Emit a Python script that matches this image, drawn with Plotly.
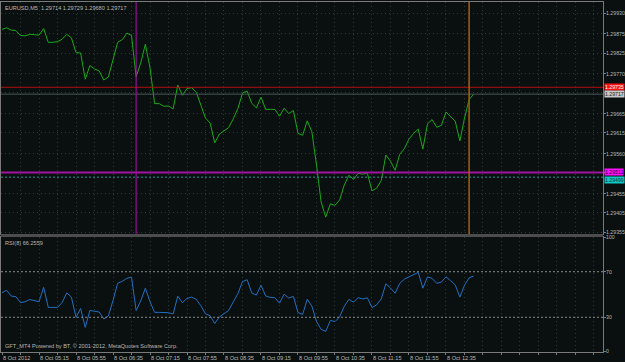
import plotly.graph_objects as go
import pandas as pd

# ---------------- data ----------------
close = [1.29887, 1.29891, 1.29885, 1.29884, 1.29871, 1.29870, 1.29874, 1.29873, 1.29872, 1.29889,
         1.29853, 1.29853, 1.29855, 1.29861, 1.29874, 1.29865, 1.29826, 1.29825, 1.29756, 1.29792,
         1.29783, 1.29778, 1.29754, 1.29762, 1.29808, 1.29853, 1.29860, 1.29877, 1.29871, 1.29763,
         1.29799, 1.29848, 1.29786, 1.29692, 1.29692, 1.29685, 1.29686, 1.29678, 1.29741, 1.29714,
         1.29732, 1.29734, 1.29722, 1.29686, 1.29654, 1.29641, 1.29589, 1.29612, 1.29621, 1.29629,
         1.29652, 1.29679, 1.29720, 1.29725, 1.29693, 1.29681, 1.29709, 1.29677, 1.29677, 1.29677,
         1.29659, 1.29680, 1.29666, 1.29674, 1.29614, 1.29609, 1.29647, 1.29618, 1.29531, 1.29434,
         1.29394, 1.29429, 1.29425, 1.29439, 1.29478, 1.29504, 1.29493, 1.29509, 1.29507, 1.29509,
         1.29463, 1.29470, 1.29490, 1.29557, 1.29541, 1.29517, 1.29559, 1.29574, 1.29599, 1.29614,
         1.29625, 1.29573, 1.29639, 1.29650, 1.29630, 1.29635, 1.29670, 1.29658, 1.29646, 1.29594,
         1.29654, 1.29703, 1.29717]

rsi = [51.6, 53.7, 48.6, 48.1, 42.9, 43.6, 45.6, 44.6, 43.7, 56.3,
       38.7, 38.7, 38.7, 42.9, 51.4, 47.7, 30.0, 37.7, 21.1, 36.0,
       35.0, 34.6, 28.5, 31.1, 44.7, 59.8, 61.6, 64.2, 65.3, 35.9,
       44.5, 55.5, 43.6, 34.3, 34.3, 34.3, 34.0, 32.9, 48.5, 42.8,
       46.6, 47.7, 45.7, 40.1, 33.0, 31.3, 24.5, 30.3, 33.5, 36.0,
       43.5, 50.7, 61.4, 63.0, 51.4, 49.5, 58.1, 48.7, 47.4, 47.2,
       42.4, 50.3, 46.8, 48.3, 34.2, 32.4, 45.9, 39.8, 26.3, 19.4,
       17.6, 27.2, 26.2, 30.3, 39.6, 45.7, 43.3, 47.2, 46.1, 47.1,
       38.5, 40.9, 46.1, 59.4, 55.7, 51.1, 59.8, 63.5, 65.5, 67.7,
       69.4, 55.5, 65.5, 64.2, 59.8, 60.9, 65.5, 62.1, 58.4, 47.7,
       58.1, 64.6, 66.2559]

bar_times = pd.date_range("2012-10-08 04:35", periods=len(close), freq="5min")

x_label_times = ["2012-10-08 04:35", "2012-10-08 05:15", "2012-10-08 05:55", "2012-10-08 06:35",
                 "2012-10-08 07:15", "2012-10-08 07:55", "2012-10-08 08:35", "2012-10-08 09:15",
                 "2012-10-08 09:55", "2012-10-08 10:35", "2012-10-08 11:15", "2012-10-08 11:55",
                 "2012-10-08 12:35"]
x_labels = ["8 Oct 2012", "8 Oct 05:15", "8 Oct 05:55", "8 Oct 06:35", "8 Oct 07:15",
            "8 Oct 07:55", "8 Oct 08:35", "8 Oct 09:15", "8 Oct 09:55", "8 Oct 10:35",
            "8 Oct 11:15", "8 Oct 11:55", "8 Oct 12:35"]

price_tick_vals = [1.29930, 1.29875, 1.29825, 1.29770, 1.29720, 1.29665,
                   1.29615, 1.29560, 1.29510, 1.29455, 1.29405, 1.29355]
price_tick_text = ["1.29930", "1.29875", "1.29825", "1.29770", "", "1.29665",
                   "1.29615", "1.29560", "", "1.29455", "1.29405", "1.29355"]
rsi_tick_vals = [100, 70, 30, 0]
rsi_levels = [70, 30]

header = "EURUSD,M5  1.29714 1.29729 1.29680 1.29717"
rsi_title = "RSI(8) 66.2559"
footer = "GFT_MT4 Powered by BT, \u00a9 2001-2012, MetaQuotes Software Corp."

ask_price = 1.29735
bid_price = 1.29717
magenta_level = 1.29511
cyan_level = 1.29499
magenta_vtime = "2012-10-08 07:00"
orange_vtime = "2012-10-08 13:00"

# ---------------- style ----------------
BG = "#0a0f0f"
GRID = "#2c3a3a"
FRAME = "#7a7a7a"
TXT = "#b8b8b8"
FONT = "Liberation Sans, Arial, sans-serif"
FS = 5.6
YFS = 5.2

grid_times = pd.date_range("2012-10-08 04:35", "2012-10-08 15:15", freq="20min")
label_map = {pd.Timestamp(t): s for t, s in zip(x_label_times, x_labels)}
grid_text = [label_map.get(t, "") for t in grid_times]

fig = go.Figure()
fig.add_trace(go.Scatter(x=bar_times, y=close, mode="lines",
                         line=dict(color="#18aa18", width=1), xaxis="x", yaxis="y",
                         hoverinfo="skip"))
fig.add_trace(go.Scatter(x=bar_times, y=rsi, mode="lines",
                         line=dict(color="#2070c4", width=1), xaxis="x2", yaxis="y2",
                         hoverinfo="skip"))

xr = ["2012-10-08 04:33:55", "2012-10-08 15:24:45"]
common_x = dict(range=xr, tickvals=grid_times, showgrid=True, gridcolor=GRID,
                griddash="1px,3px", gridwidth=1, zeroline=False, showline=True,
                linecolor=FRAME, linewidth=1, mirror=True, automargin=False, tickangle=0)

fig.update_layout(
    width=625, height=362,
    margin=dict(l=1, r=22, t=2, b=10, autoexpand=False),
    paper_bgcolor=BG, plot_bgcolor=BG,
    showlegend=False,
    font=dict(family=FONT, size=FS, color=TXT),
    xaxis=dict(domain=[0, 1], anchor="y", showticklabels=False, ticks="", **common_x),
    xaxis2=dict(domain=[0, 1], anchor="y2", matches="x", ticktext=grid_text,
                showticklabels=True, ticks="outside", ticklen=2, tickcolor=FRAME,
                ticklabelposition="outside right",
                tickfont=dict(family=FONT, size=FS, color=TXT), **common_x),
    yaxis=dict(domain=[0.3371, 1], anchor="x", side="right", automargin=False,
               range=[1.293497, 1.299589], tickvals=price_tick_vals, ticktext=price_tick_text,
               showgrid=True, gridcolor=GRID, griddash="1px,3px", zeroline=False,
               ticks="outside", ticklen=2, tickcolor=FRAME, ticklabelstandoff=-1,
               showline=True, linecolor=FRAME, mirror=True,
               tickfont=dict(family=FONT, size=YFS, color=TXT)),
    yaxis2=dict(domain=[0, 0.3286], anchor="x2", side="right", automargin=False,
                range=[-0.5, 100.5], tickvals=rsi_tick_vals,
                ticktext=[str(v) for v in rsi_tick_vals],
                showgrid=False, zeroline=False,
                ticks="outside", ticklen=2, tickcolor=FRAME, ticklabelstandoff=-1,
                showline=True, linecolor=FRAME, mirror=True,
                tickfont=dict(family=FONT, size=YFS, color=TXT)),
)

shapes = []
# separator between panels
shapes.append(dict(type="rect", xref="paper", yref="paper", x0=0, x1=1, y0=0.3286, y1=0.3371,
                   fillcolor="#4c4c4c", line=dict(width=0), layer="above"))
# RSI levels
for lv in rsi_levels:
    shapes.append(dict(type="line", xref="paper", yref="y2", x0=0, x1=1, y0=lv, y1=lv,
                       line=dict(color="#8c8c8c", width=1, dash="2px,2px")))
# price lines
shapes.append(dict(type="line", xref="paper", yref="y", x0=0, x1=1, y0=ask_price, y1=ask_price,
                   line=dict(color="#b01010", width=1)))
shapes.append(dict(type="line", xref="paper", yref="y", x0=0, x1=1, y0=bid_price, y1=bid_price,
                   line=dict(color="#4a5858", width=1)))
shapes.append(dict(type="line", xref="paper", yref="y", x0=0, x1=1, y0=cyan_level, y1=cyan_level,
                   line=dict(color="#1e9c9c", width=1, dash="2px,2px")))
shapes.append(dict(type="line", xref="paper", yref="y", x0=0, x1=1, y0=magenta_level, y1=magenta_level,
                   line=dict(color="#a014a0", width=2)))
# vertical lines
shapes.append(dict(type="line", xref="x", yref="y domain", x0=magenta_vtime, x1=magenta_vtime,
                   y0=0, y1=1, line=dict(color="#b010b0", width=1)))
shapes.append(dict(type="line", xref="x", yref="y domain", x0=orange_vtime, x1=orange_vtime,
                   y0=0, y1=1, line=dict(color="#a8600c", width=1.5)))
fig.update_layout(shapes=shapes)

ann = []
ann.append(dict(text=header, xref="paper", yref="paper", x=0.004, y=1, xanchor="left",
                yanchor="top", yshift=-1, showarrow=False, font=dict(size=FS, color=TXT)))
ann.append(dict(text=rsi_title, xref="paper", yref="paper", x=0.004, y=0.3286, xanchor="left",
                yanchor="top", yshift=-1, showarrow=False, font=dict(size=FS, color=TXT)))
ann.append(dict(text=footer, xref="paper", yref="paper", x=0.004, y=0, xanchor="left",
                yanchor="bottom", yshift=1, showarrow=False, font=dict(size=FS, color=TXT)))

boxes = [
    (ask_price, "#ff1010", "#ffffff", 0),
    (bid_price, "#c8c8c8", "#202020", 0),
    (cyan_level, "#10c8c8", "#103030", -3),
    (magenta_level, "#ff10ff", "#300030", 1),
]
for val, bg, fg, ys in boxes:
    ann.append(dict(text="%.5f" % val, xref="paper", yref="y", x=1, y=val, xanchor="left",
                    yanchor="middle", xshift=1, yshift=ys, showarrow=False, bgcolor=bg,
                    borderpad=0, font=dict(size=YFS, color=fg)))
fig.update_layout(annotations=ann)

fig.write_html("out.html")
